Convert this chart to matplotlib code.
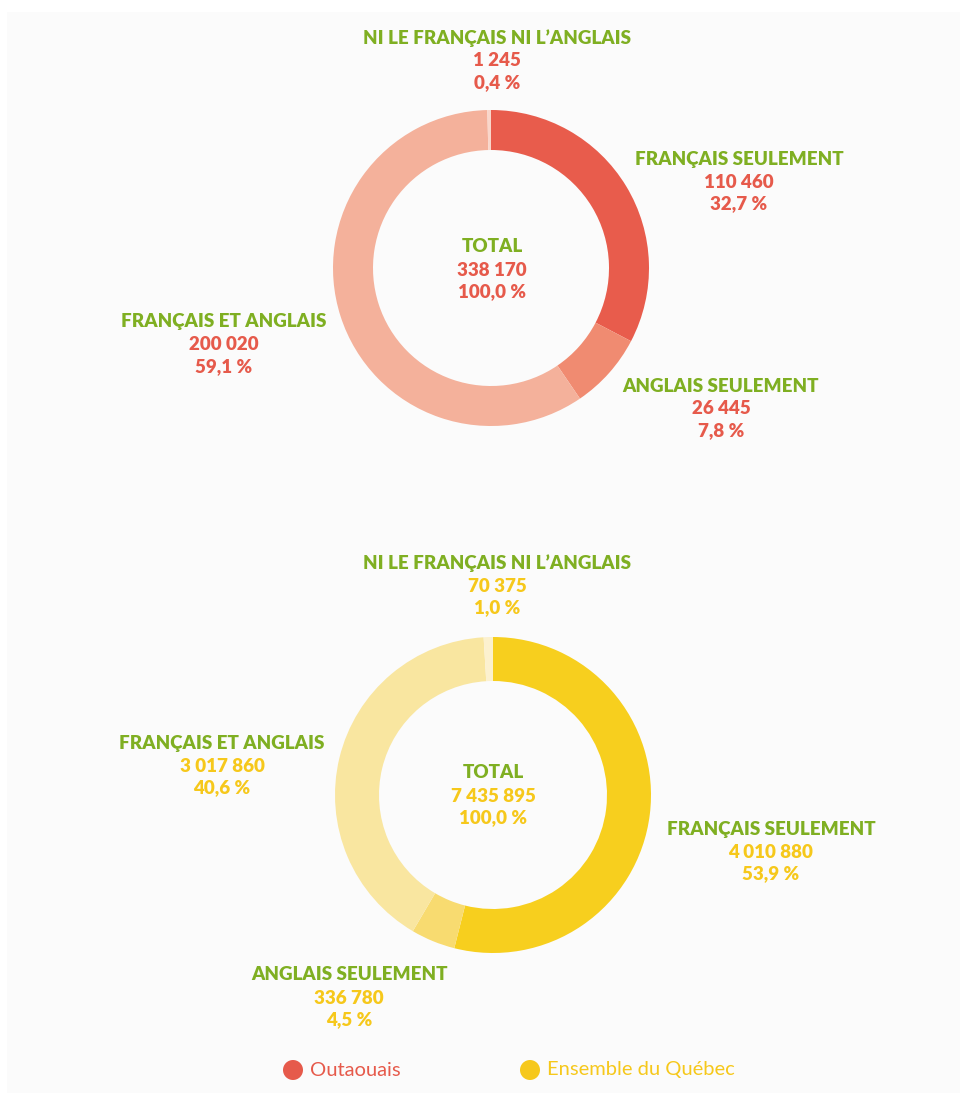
import matplotlib
matplotlib.use("Agg")
import matplotlib.pyplot as plt
from matplotlib.patches import Rectangle, Circle

# data
categories = ["FRANÇAIS SEULEMENT", "ANGLAIS SEULEMENT", "FRANÇAIS ET ANGLAIS", "NI LE FRANÇAIS NI L’ANGLAIS"]
outaouais_values = [110460, 26445, 200020, 1245]
outaouais_pct = [32.7, 7.8, 59.1, 0.4]
outaouais_total = 338170
quebec_values = [4010880, 336780, 3017860, 70375]
quebec_pct = [53.9, 4.5, 40.6, 1.0]
quebec_total = 7435895
legend_labels = ["Outaouais", "Ensemble du Québec"]

GREEN = "#7FAF22"
RED = "#E65A4B"
YELLOW = "#F6C81B"
red_shades = ["#E85C4C", "#F08B71", "#F4B19B", "#F9D6CA"]
yellow_shades = ["#F7CF1E", "#F8DB70", "#F9E6A0", "#FCF1CF"]

FONT = ["Lato", "DejaVu Sans"]

W, H = 963, 1100


def fmt_num(v):
    return "{:,}".format(v).replace(",", " ")


def fmt_pct(p):
    return "{:.1f} %".format(p).replace(".", ",")


fig = plt.figure(figsize=(W / 100, H / 100), dpi=100, facecolor="white")
ax = fig.add_axes([0, 0, 1, 1])
ax.set_facecolor("none")

ax.add_patch(Rectangle((7, H - 1093), 953, 1081, facecolor="#FBFBFB", edgecolor="none", zorder=0))


def donut(cx, cy, values, colors, ring):
    ax.pie(values, colors=colors, startangle=90, counterclock=False,
           radius=158, center=(cx, H - cy),
           wedgeprops=dict(width=ring, linewidth=0))


def block(x, y, title, value, pct, vcolor, fs=13.5):
    ax.text(x, H - y, title, color=GREEN, fontsize=fs, fontweight="heavy",
            family=FONT, ha="center", va="center")
    ax.text(x, H - y - 23, value, color=vcolor, fontsize=fs, fontweight="heavy",
            family=FONT, ha="center", va="center")
    ax.text(x, H - y - 45, pct, color=vcolor, fontsize=fs, fontweight="heavy",
            family=FONT, ha="center", va="center")


# Outaouais
donut(491, 268, outaouais_values, red_shades, 40)
pos1 = [(739, 159), (721, 386), (224, 322), (497, 38)]
for (x, y), cat, v, p in zip(pos1, categories, outaouais_values, outaouais_pct):
    block(x, y, cat, fmt_num(v), fmt_pct(p), RED)
block(492, 247, "TOTAL", fmt_num(outaouais_total), fmt_pct(100.0), RED)

# Ensemble du Québec
donut(493, 795, quebec_values, yellow_shades, 44)
pos2 = [(771, 829), (349, 975), (222, 743), (497, 563)]
for (x, y), cat, v, p in zip(pos2, categories, quebec_values, quebec_pct):
    block(x, y, cat, fmt_num(v), fmt_pct(p), YELLOW)
block(493, 773, "TOTAL", fmt_num(quebec_total), fmt_pct(100.0), YELLOW)

# legend
for (cx, label, col) in [(293, legend_labels[0], RED), (530, legend_labels[1], YELLOW)]:
    ax.add_patch(Circle((cx, H - 1070), 10, facecolor=col, edgecolor="none"))
    ax.text(cx + 17, H - 1070, label, color=col, fontsize=14.5, family=FONT,
            ha="left", va="center")

ax.set_xlim(0, W)
ax.set_ylim(0, H)
ax.set_aspect("equal")
ax.axis("off")

fig.savefig("out.png", dpi=100, facecolor="white")
